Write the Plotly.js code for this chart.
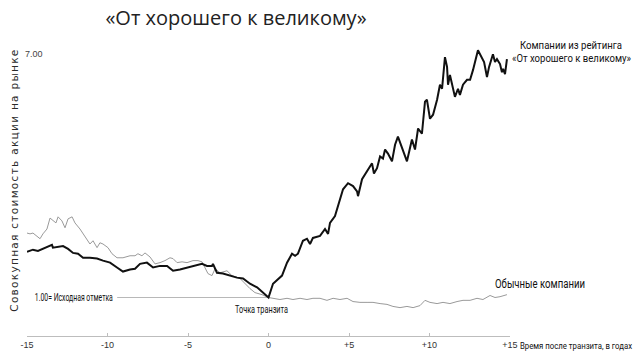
<!DOCTYPE html>
<html>
<head>
<meta charset="utf-8">
<script src="https://cdn.plot.ly/plotly-3.0.1.min.js"></script>
<style>
html,body{margin:0;padding:0;background:#fff;}
#chart{width:644px;height:352px;}
</style>
</head>
<body>
<div id="chart"></div>
<script>
// Good-to-great companies (black line): years relative to transition, cumulative value (1.00 = start)
const greatYears = [-15.00,-14.63,-14.32,-14.01,-13.57,-13.45,-13.39,-12.76,-12.45,-12.14,-11.83,-11.52,-11.09,-10.65,-10.28,-9.84,-9.41,-9.04,-8.60,-8.29,-7.98,-7.55,-7.17,-6.74,-6.30,-5.93,-5.50,-5.06,-4.69,-4.13,-3.82,-3.51,-3.45,-3.20,-2.83,-2.39,-1.96,-1.58,-1.15,-0.71,-0.34,0.00,0.28,0.53,0.84,1.15,1.46,1.65,1.83,2.14,2.39,2.58,2.76,3.20,3.51,3.70,3.82,4.13,4.44,4.63,4.94,5.25,5.50,5.56,5.81,6.12,6.43,6.55,6.74,6.93,7.11,7.24,7.42,7.67,7.86,8.04,8.29,8.48,8.60,8.91,9.10,9.29,9.53,9.72,9.84,10.03,10.22,10.47,10.65,10.78,10.96,11.09,11.15,11.27,11.46,11.58,11.77,11.89,12.08,12.33,12.52,12.70,13.01,13.26,13.39,13.57,13.70,13.94,14.07,14.19,14.38,14.50,14.57,14.69,14.81];
const greatValues = [2.13,2.18,2.15,2.20,2.27,2.30,2.23,2.27,2.20,2.10,2.08,1.98,1.98,1.96,1.91,1.86,1.74,1.64,1.69,1.71,1.83,1.86,1.74,1.78,1.78,1.66,1.69,1.74,1.78,1.83,1.78,1.78,1.83,1.61,1.59,1.54,1.49,1.47,1.34,1.25,1.12,1.00,1.34,1.42,1.54,1.86,2.08,2.03,2.08,2.40,2.45,2.32,2.47,2.52,2.69,2.57,2.84,3.01,3.45,3.67,3.82,3.75,3.62,3.50,3.92,4.11,4.31,4.06,4.19,4.48,4.43,4.65,4.55,4.36,4.77,4.97,4.68,4.48,4.36,4.90,4.65,5.17,5.04,5.83,5.88,5.41,5.51,5.88,6.25,6.15,6.93,6.69,6.25,6.49,6.12,5.95,6.15,6.00,6.25,6.37,6.37,6.61,7.10,6.93,6.81,6.44,6.69,7.00,6.81,6.88,6.76,6.56,6.64,6.51,6.88];

// Comparison companies (gray line)
const compYears = [-15.00,-14.81,-14.63,-14.38,-14.19,-14.01,-13.76,-13.57,-13.39,-13.20,-13.07,-12.83,-12.64,-12.45,-12.20,-12.02,-11.71,-11.52,-11.27,-11.09,-10.90,-10.65,-10.47,-10.28,-9.97,-9.72,-9.41,-9.04,-8.60,-8.29,-8.11,-7.86,-7.67,-7.36,-7.05,-6.74,-6.43,-6.12,-5.93,-5.68,-5.37,-5.06,-4.69,-4.38,-4.13,-3.94,-3.76,-3.51,-3.32,-3.01,-2.58,-2.27,-1.77,-1.15,-0.84,-0.40,0.00,0.28,0.71,1.15,1.52,1.96,2.39,2.76,3.20,3.63,4.01,4.44,4.88,5.25,5.68,6.12,6.49,6.93,7.36,7.73,8.17,8.60,8.98,9.41,9.72,10.03,10.47,10.84,11.27,11.71,12.08,12.52,12.95,13.32,13.76,14.07,14.38,14.81];
const compValues = [2.59,2.57,2.59,2.50,2.45,2.57,2.69,2.96,2.89,2.84,2.99,2.89,2.72,2.94,2.99,2.84,2.69,2.57,2.40,2.32,2.40,2.23,2.35,2.32,2.23,2.08,1.98,1.98,2.03,2.03,2.08,2.03,2.10,2.00,1.83,1.86,1.91,1.98,1.96,1.86,1.88,1.86,1.91,1.91,1.88,1.71,1.59,1.54,1.71,1.61,1.66,1.54,1.47,1.22,1.12,1.07,1.00,0.98,0.95,0.98,0.95,0.98,0.95,0.98,0.98,0.93,0.98,0.95,0.98,0.90,0.88,0.88,0.88,0.85,0.83,0.78,0.75,0.78,0.75,0.80,0.93,0.88,0.85,0.88,0.85,0.90,0.93,0.93,0.98,0.95,1.05,1.00,1.02,1.07];

// Baseline (1.00 = starting mark)
const baseYears = [-9.4, 0];
const baseValues = [1, 1];

const xTickVals = [-15, -10, -5, 0, 5, 10, 15];
const xTickText = ['-15', '-10', '-5', '0', '+5', '+10', '+15'];
const yMarkLabel = '7.00';

const W = 644, H = 352, L = 27, R = 134, T = 30, B = 16;
const px = x => (x - L) / (W - L - R);
const py = y => (H - B - y) / (H - T - B);
const narrow = 'Roboto, Liberation Sans, sans-serif';

const traces = [
  {x: baseYears, y: baseValues, mode: 'lines', line: {color: '#b8b8b8', width: 1}, hoverinfo: 'skip'},
  {x: compYears, y: compValues, mode: 'lines', line: {color: '#9a9a9a', width: 1}, hoverinfo: 'skip'},
  {x: greatYears, y: greatValues, mode: 'lines', line: {color: '#111', width: 2}, hoverinfo: 'skip'}
];

// target rendered widths (px) for condensed labels
const squeeze = {};
const ann = (text, x, y, size, width, extra) => {
  const a = {
    text: text, xref: 'paper', yref: 'paper', x: px(x), y: py(y),
    showarrow: false, xanchor: 'center', yanchor: 'middle',
    font: {family: narrow, size: size, color: '#111'}
  };
  if (width) { squeeze[text] = width; a.width = width + 2; }
  return Object.assign(a, extra || {});
};

const layout = {
  width: W, height: H,
  margin: {l: L, r: R, t: T, b: B, pad: 0},
  paper_bgcolor: '#fff', plot_bgcolor: '#fff',
  showlegend: false,
  title: {text: '«От хорошего к великому»', xref: 'container', x: 236 / W, xanchor: 'center', y: 1 - 18 / H, yanchor: 'middle',
          font: {family: 'Open Sans, Noto Sans, sans-serif', size: 20, color: '#222'}},
  xaxis: {range: [-15, 15], showgrid: false, zeroline: false, showline: true, linecolor: '#bdbdbd', linewidth: 1,
          tickvals: xTickVals, ticktext: xTickText, ticks: 'inside', ticklen: 3, tickcolor: '#bdbdbd',
          tickfont: {family: 'Liberation Sans, Arial, sans-serif', size: 9, color: '#333'}, automargin: false},
  yaxis: {range: [0.05, 7.6], showgrid: false, zeroline: false, showline: false, showticklabels: false, ticks: '', automargin: false},
  annotations: [
    ann('Совокупная стоимость акции на рынке', 14, 180, 10.5, 0, {textangle: -90,
        font: {family: 'DejaVu Sans, sans-serif', size: 10.5, color: '#2a2a2a'}}),
    ann(yMarkLabel, 34, 54, 9, 0, {font: {family: 'Liberation Sans, Arial, sans-serif', size: 9, color: '#444'}}),
    ann('Компании из рейтинга', 571, 45, 11.5, 102),
    ann('«От хорошего к великому»', 571, 58.5, 10.5, 119),
    ann('Обычные компании', 540, 283, 12.5, 90),
    ann('Точка транзита', 261.5, 309, 11.5, 53),
    ann('1.00= Исходная отметка', 74, 297.5, 10.5, 78),
    ann('Время после транзита, в годах', 576, 346, 8.4, 112)
  ]
};

Plotly.newPlot('chart', traces, layout, {staticPlot: true, displayModeBar: false}).then(() => {
  document.querySelectorAll('.annotation-text').forEach(t => {
    const s = t.textContent;
    if (s.indexOf('Совокупная') === 0) t.style.letterSpacing = '1.3px';
    if (squeeze[s]) {
      t.setAttribute('textLength', squeeze[s]);
      t.setAttribute('lengthAdjust', 'spacingAndGlyphs');
    }
  });
});
</script>
</body>
</html>
